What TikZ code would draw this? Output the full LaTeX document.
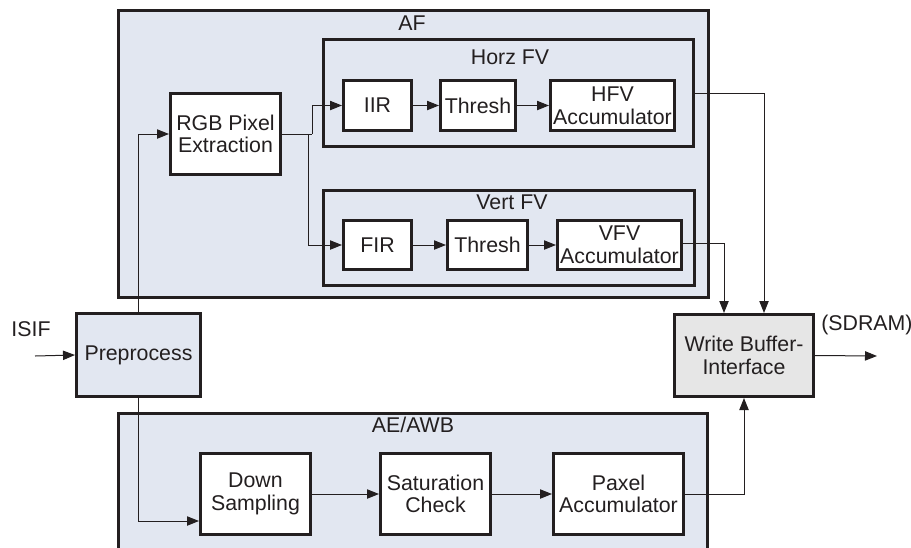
\documentclass[tikz,border=0pt]{standalone}
\usepackage{fontspec}
\setmainfont{Liberation Sans}
\usetikzlibrary{arrows.meta,calc}
\definecolor{boxblue}{RGB}{226,231,241}
\definecolor{boxgray}{RGB}{230,230,230}
\definecolor{ink}{RGB}{35,31,32}
\begin{document}
\begin{tikzpicture}[x=0.75pt,y=-0.75pt,
  font=\fontsize{16}{17}\selectfont,
  sz/.style 2 args={minimum width=#1*0.75pt,minimum height=#2*0.75pt},
  blk/.style={draw=ink,line width=2.25pt,fill=white,inner sep=0pt,align=center,text=ink},
  cont/.style={draw=ink,line width=2.25pt,fill=boxblue,inner sep=0pt},
  lbl/.style={text=ink,inner sep=0pt},
  conn/.style={draw=ink,line width=0.75pt,-{Triangle[length=9pt,width=7pt]}},
  wire/.style={draw=ink,line width=0.75pt}]
\useasboundingbox (0,0) rectangle (911,547);
% containers
\node[cont,sz={590}{287}] (af) at (413.5,154) {};
\node[cont,sz={589}{205}] (ae) at (413,516) {};
\node[cont,sz={370}{107}] (horz) at (508.5,93) {};
\node[cont,sz={371}{95}] (vert) at (509,238) {};
% labels
\node[lbl] (aflbl) at (412,23) {AF};
\node[lbl] (horzlbl) at (510,57) {Horz FV};
\node[lbl] (vertlbl) at (512,202) {Vert FV};
\node[lbl] (aelbl) at (413,425) {AE/AWB};
\node[lbl] (isif) at (31,329) {ISIF};
\node[lbl,anchor=west] (sdram) at (821,325) {(SDRAM)};
% blocks
\node[blk,sz={110}{81}] (rgb) at (225.5,134) {RGB Pixel\\Extraction};
\node[blk,sz={68}{50}] (iir) at (377.5,105.5) {IIR};
\node[blk,sz={75}{50}] (th1) at (478,105.5) {Thresh};
\node[blk,sz={124}{50}] (hfv) at (612.5,105.5) {HFV\\Accumulator};
\node[blk,sz={68}{49}] (fir) at (377.5,245) {FIR};
\node[blk,sz={80}{49}] (th2) at (487.5,245) {Thresh};
\node[blk,sz={124}{49}] (vfv) at (619.5,245) {VFV\\Accumulator};
\node[blk,fill=boxblue,sz={124}{83}] (pre) at (138.5,355) {Preprocess};
\node[blk,fill=boxgray,sz={139}{82}] (wb) at (744,355.5) {Write Buffer-\\Interface};
\node[blk,sz={110}{81}] (ds) at (255.5,494) {Down\\Sampling};
\node[blk,sz={110}{81}] (sat) at (435.5,494) {Saturation\\Check};
\node[blk,sz={130}{81}] (pax) at (618.5,494) {Paxel\\Accumulator};
% free ends
\coordinate (in) at (35,356);
\coordinate (out) at (877,356);
\coordinate (split) at (312,134);
\coordinate (branch) at (308,134);
% connectors
\draw[conn] (in) -- (pre.west);
\draw[conn] (pre.north) |- (rgb.west);
\draw[wire] (rgb.east) -- (split);
\draw[conn] (split) |- (iir.west);
\draw[conn] (branch) |- (fir.west);
\draw[conn] (iir) -- (th1);
\draw[conn] (th1) -- (hfv);
\draw[conn] (fir) -- (th2);
\draw[conn] (th2) -- (vfv);
\draw[conn] (horz.east) -| ([xshift=15pt]wb.north);
\draw[conn] ([yshift=1.5pt]vfv.east) -| ([xshift=-15pt]wb.north);
\draw[conn] (pre.south) |- ($(ds.west)+(0,27)$);
\draw[conn] (ds) -- (sat);
\draw[conn] (sat) -- (pax);
\draw[conn] (pax.east) -| (wb.south);
\draw[conn] (wb.east) -- (out);
\end{tikzpicture}
\end{document}
